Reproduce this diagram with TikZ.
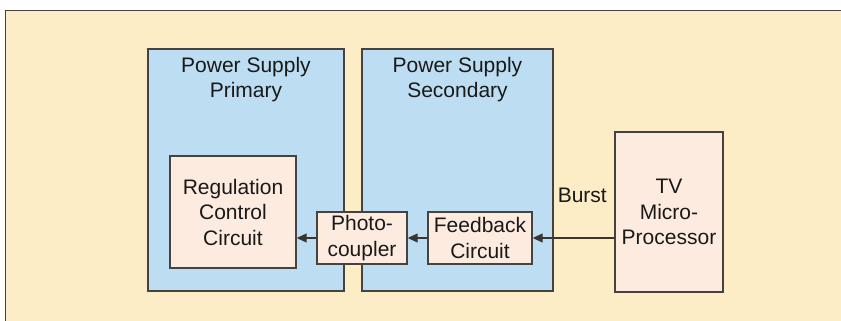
\documentclass[tikz,border=0pt]{standalone}
\usepackage{fontspec}
\setmainfont{Liberation Sans}
\definecolor{panelcream}{RGB}{253, 237, 198}
\definecolor{supplyblue}{RGB}{189, 222, 242}
\definecolor{blockpink}{RGB}{253, 235, 224}
\definecolor{edgegray}{RGB}{70, 66, 64}
\usetikzlibrary{arrows.meta, positioning, calc}

\tikzset{
  supply/.style={draw=edgegray, line width=1.4pt, fill=supplyblue, inner sep=0pt},
  block/.style={draw=edgegray, line width=1.4pt, fill=blockpink, align=center, inner sep=0pt},
  feed/.style={draw=edgegray!80!black, line width=1.1pt, -{Triangle[length=10pt, width=9pt]}},
  lbl/.style={align=center}
}

\begin{document}
\begin{tikzpicture}[x=1pt, y=-1pt, every node/.style={font=\fontsize{21}{25.5}\selectfont, text=black!90}]
  \useasboundingbox (0,0) rectangle (841,321);
  % cream panel, rule on top and left only
  \fill[panelcream] (5.5,10.5) rectangle (841,321);
  \draw[edgegray, line width=1.4pt] (5.5,321) -- (5.5,10.5) -- (841,10.5);

  % the two supply halves
  \node[supply, minimum width=196pt, minimum height=242pt] (primary) at (246,170) {};
  \node[supply, minimum width=191pt, minimum height=242pt] (secondary) at (457.5,170) {};
  \node[lbl, below=5pt of primary.north] (primarylbl) {Power Supply\\Primary};
  \node[lbl, below=5pt of secondary.north] (secondarylbl) {Power Supply\\Secondary};

  % blocks
  \node[block, minimum width=126pt, minimum height=112pt] (regctl) at (233,212) {Regulation\\Control\\Circuit};
  \node[block, minimum width=90pt, minimum height=52pt] (photo) at (362,238) {Photo-\\coupler};
  \node[block, minimum width=104pt, minimum height=52pt] (feedback) at (480,238) {Feedback\\Circuit};
  \node[block, minimum width=108pt, minimum height=160pt] (tvmp) at (669,212) {TV\\Micro-\\Processor};

  % signal path
  \coordinate (burstsrc) at (feedback.east -| tvmp.west);
  \node[lbl, anchor=east] (burst) at ($(tvmp.west)+(-4,-17)$) {Burst};
  \draw[feed] (burstsrc) -- (feedback.east);
  \draw[feed] (feedback.west) -- (photo.east);
  \draw[feed] (photo.west) -- (regctl.east |- photo.west);
\end{tikzpicture}
\end{document}
